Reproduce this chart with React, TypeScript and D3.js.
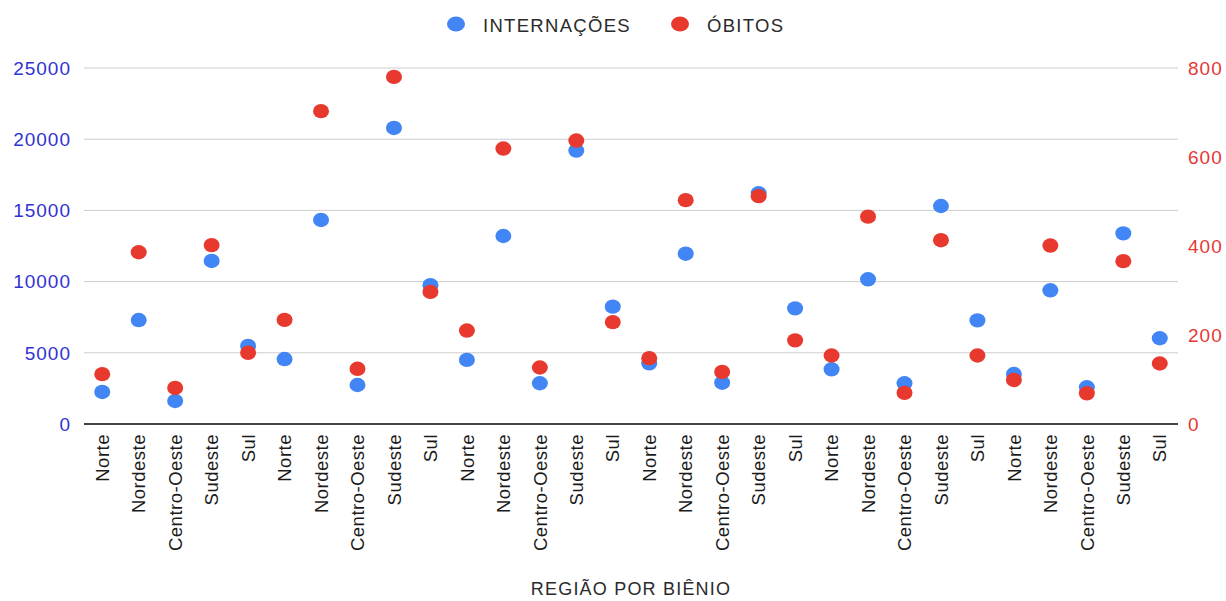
import React from "react";
import * as d3 from "d3";

const categories = [
  "Norte", "Nordeste", "Centro-Oeste", "Sudeste", "Sul",
  "Norte", "Nordeste", "Centro-Oeste", "Sudeste", "Sul",
  "Norte", "Nordeste", "Centro-Oeste", "Sudeste", "Sul",
  "Norte", "Nordeste", "Centro-Oeste", "Sudeste", "Sul",
  "Norte", "Nordeste", "Centro-Oeste", "Sudeste", "Sul",
  "Norte", "Nordeste", "Centro-Oeste", "Sudeste", "Sul",
];

const internacoes = [
  2250, 7300, 1620, 11450, 5480,
  4560, 14330, 2740, 20790, 9750,
  4500, 13200, 2860, 19200, 8240,
  4260, 11960, 2900, 16200, 8120,
  3840, 10160, 2860, 15310, 7280,
  3510, 9390, 2580, 13390, 6020,
];

const obitos = [
  112, 386, 81, 402, 160,
  234, 703, 124, 780, 297,
  210, 619, 127, 637, 229,
  148, 503, 117, 512, 188,
  154, 466, 70, 413, 154,
  99, 401, 69, 366, 136,
];

const leftTicks = [0, 5000, 10000, 15000, 20000, 25000];
const rightTicks = [0, 200, 400, 600, 800];

const BLUE = "#4285f4";
const RED = "#e8392f";
const FONT = "Arial, 'Liberation Sans', sans-serif";

const App: React.FC = () => {
  const width = 1226;
  const height = 601;
  const left = 84;
  const right = 1178;
  const top = 68;
  const bottom = 424;

  const x = d3
    .scaleBand<number>()
    .domain(d3.range(categories.length))
    .range([left, right]);
  const yL = d3.scaleLinear().domain([0, 25000]).range([bottom, top]);
  const yR = d3.scaleLinear().domain([0, 800]).range([bottom, top]);
  const cx = (i: number) => (x(i) as number) + x.bandwidth() / 2;

  return (
    <svg
      width={width}
      height={height}
      style={{ position: "absolute", left: 0, top: 0, background: "#fff" }}
      fontFamily={FONT}
    >
      {/* grid */}
      {leftTicks.map((t) => (
        <line
          key={"g" + t}
          x1={left}
          x2={right}
          y1={yL(t)}
          y2={yL(t)}
          stroke={t === 0 ? "#444" : "#cccccc"}
          strokeWidth={t === 0 ? 2 : 1}
        />
      ))}

      {/* left axis labels */}
      {leftTicks.map((t) => (
        <text
          key={"l" + t}
          x={71}
          y={yL(t)}
          dy="0.36em"
          textAnchor="end"
          fontSize={19}
          letterSpacing={1}
          fill="#3232d2"
        >
          {t}
        </text>
      ))}

      {/* right axis labels */}
      {rightTicks.map((t) => (
        <text
          key={"r" + t}
          x={1188}
          y={yR(t)}
          dy="0.36em"
          textAnchor="start"
          fontSize={19}
          letterSpacing={1}
          fill="#e53935"
        >
          {t}
        </text>
      ))}

      {/* category labels */}
      {categories.map((c, i) => (
        <text
          key={"c" + i}
          transform={`translate(${cx(i)},434) rotate(-90)`}
          dy="0.36em"
          textAnchor="end"
          fontSize={18.5}
          letterSpacing={0.5}
          fill="#1a1a1a"
        >
          {c}
        </text>
      ))}

      {/* points */}
      {internacoes.map((v, i) => (
        <ellipse key={"b" + i} cx={cx(i)} cy={yL(v)} rx={8} ry={7.2} fill={BLUE} />
      ))}
      {obitos.map((v, i) => (
        <ellipse key={"o" + i} cx={cx(i)} cy={yR(v)} rx={8} ry={7.2} fill={RED} />
      ))}

      {/* legend */}
      <ellipse cx={456} cy={24} rx={9} ry={7.5} fill={BLUE} />
      <text x={483} y={25} dy="0.36em" fontSize={18.5} letterSpacing={1.3} fill="#2a2a2a">
        INTERNAÇÕES
      </text>
      <ellipse cx={680} cy={24} rx={9} ry={7.5} fill={RED} />
      <text x={707} y={25} dy="0.36em" fontSize={18.5} letterSpacing={1.3} fill="#2a2a2a">
        ÓBITOS
      </text>

      {/* axis title */}
      <text
        x={631}
        y={589}
        dy="0.36em"
        textAnchor="middle"
        fontSize={18}
        letterSpacing={1.2}
        fill="#2a2a2a"
      >
        REGIÃO POR BIÊNIO
      </text>
    </svg>
  );
};

export default App;
